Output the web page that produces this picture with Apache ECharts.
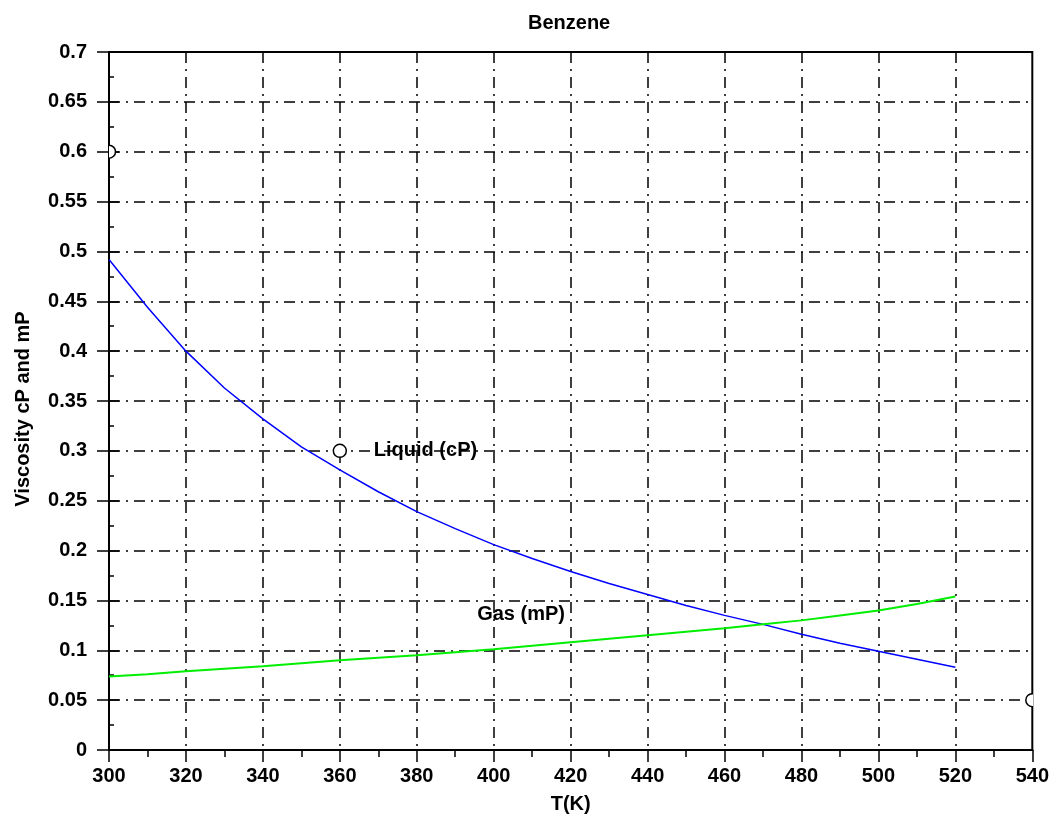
<!DOCTYPE html>
<html>
<head>
<meta charset="utf-8">
<title>Benzene viscosity</title>
<script src="https://cdn.jsdelivr.net/npm/echarts@6/dist/echarts.min.js"></script>
<style>
  html, body { margin: 0; padding: 0; background: #fff; }
  #chart { width: 1052px; height: 819px; }
</style>
</head>
<body>
<div id="chart"></div>
<script>
// Temperature grid (K)
const temps = [300, 310, 320, 330, 340, 350, 360, 370, 380, 390, 400, 410,
               420, 430, 440, 450, 460, 470, 480, 490, 500, 510, 520];
// Liquid viscosity, cP
const liquidVisc = [0.492, 0.444, 0.400, 0.363, 0.332, 0.304, 0.281, 0.259, 0.239, 0.222, 0.206, 0.192,
                    0.179, 0.167, 0.156, 0.145, 0.135, 0.126, 0.116, 0.107, 0.099, 0.091, 0.083];
// Gas viscosity, mP
const gasVisc = [0.0737, 0.076, 0.079, 0.0815, 0.084, 0.087, 0.090, 0.0925, 0.095, 0.098, 0.101, 0.1045,
                 0.108, 0.1115, 0.115, 0.1185, 0.122, 0.126, 0.130, 0.135, 0.140, 0.1465, 0.154];

// Open circle markers
const markerT = [300, 360, 540];
const markerV = [0.6, 0.3, 0.05];

// Text annotations
const noteText = ['Liquid (cP)', 'Gas (mP)'];
const noteT = [360, 395.7];
const noteV = [0.3, 0.136];
const noteGap = [34, 0];

// Axis ticks
const xMin = 300, xMax = 540, xStep = 20;
const yMin = 0, yMax = 0.7, yStep = 0.05;

const FONT = "'Liberation Sans', Arial, Helvetica, sans-serif";
const gridDash = [11, 6, 2, 6];

const chart = echarts.init(document.getElementById('chart'), null, { renderer: 'canvas' });

const textBold = { fontFamily: FONT, fontWeight: 'bold', fontSize: 20, color: '#000' };

chart.setOption({
  backgroundColor: '#fff',
  animation: false,
  title: {
    text: 'Benzene',
    left: 523,
    top: 8,
    textStyle: Object.assign({}, textBold)
  },
  grid: {
    left: 109, right: 18, top: 52, bottom: 67,
    show: true,
    borderColor: '#000',
    borderWidth: 2,
    backgroundColor: 'transparent'
  },
  xAxis: {
    type: 'value',
    min: xMin, max: xMax, interval: xStep,
    name: 'T(K)',
    nameLocation: 'middle',
    nameGap: 44,
    nameTextStyle: Object.assign({}, textBold),
    axisLine: { show: true, onZero: false, lineStyle: { color: '#000', width: 2 } },
    axisTick: { show: true, inside: false, length: 12, lineStyle: { color: '#000', width: 1.5 } },
    minorTick: { show: true, splitNumber: 2, length: 7, lineStyle: { color: '#000', width: 1.5 } },
    axisLabel: Object.assign({ margin: 16 }, textBold),
    splitLine: {
      show: true, showMinLine: false, showMaxLine: false,
      lineStyle: { color: '#000', width: 1.5, type: gridDash }
    }
  },
  yAxis: [
    {
      type: 'value',
      min: yMin, max: yMax, interval: yStep,
      name: 'Viscosity cP and mP',
      nameLocation: 'middle',
      nameRotate: 90,
      nameGap: 76,
      nameTextStyle: Object.assign({ padding: [0, 16, 0, 0] }, textBold),
      axisLine: { show: true, onZero: false, lineStyle: { color: '#000', width: 2 } },
      axisTick: { show: true, inside: false, length: 12, lineStyle: { color: '#000', width: 1.5 } },
      axisLabel: Object.assign({
        margin: 22,
        formatter: v => String(parseFloat(v.toFixed(2)))
      }, textBold),
      splitLine: {
        show: true, showMinLine: false, showMaxLine: false,
        lineStyle: { color: '#000', width: 1.5, type: gridDash }
      }
    },
    {
      type: 'value',
      position: 'left',
      offset: 0,
      min: yMin, max: yMax, interval: yStep,
      axisLine: { show: false },
      axisTick: { show: true, inside: true, length: 10, lineStyle: { color: '#000', width: 1.5 } },
      minorTick: { show: true, splitNumber: 2, length: 5, lineStyle: { color: '#000', width: 1.5 } },
      axisLabel: { show: false },
      splitLine: { show: false }
    }
  ],
  series: [
    {
      name: 'Liquid (cP)',
      type: 'line',
      data: temps.map((t, i) => [t, liquidVisc[i]]),
      showSymbol: false,
      symbol: 'none',
      lineStyle: { color: '#0000ff', width: 1.5 },
      z: 3
    },
    {
      name: 'Gas (mP)',
      type: 'line',
      data: temps.map((t, i) => [t, gasVisc[i]]),
      showSymbol: false,
      symbol: 'none',
      lineStyle: { color: '#00ee00', width: 2 },
      z: 3
    },
    {
      name: 'markers',
      type: 'custom',
      clip: true,
      data: markerT.map((t, i) => [t, markerV[i]]),
      renderItem: function (params, api) {
        const p = api.coord([api.value(0), api.value(1)]);
        return {
          type: 'circle',
          shape: { cx: p[0], cy: p[1], r: 6.5 },
          style: { fill: '#fff', stroke: '#000', lineWidth: 1.5 }
        };
      },
      z: 4
    },
    {
      name: 'notes',
      type: 'scatter',
      symbolSize: 0,
      itemStyle: { opacity: 1 },
      data: noteT.map((t, i) => ({
        value: [t, noteV[i]],
        name: noteText[i],
        label: { distance: noteGap[i] }
      })),
      label: Object.assign({
        show: true,
        position: 'right',
        opacity: 1,
        formatter: p => p.name
      }, textBold),
      z: 5
    }
  ]
});
</script>
</body>
</html>
